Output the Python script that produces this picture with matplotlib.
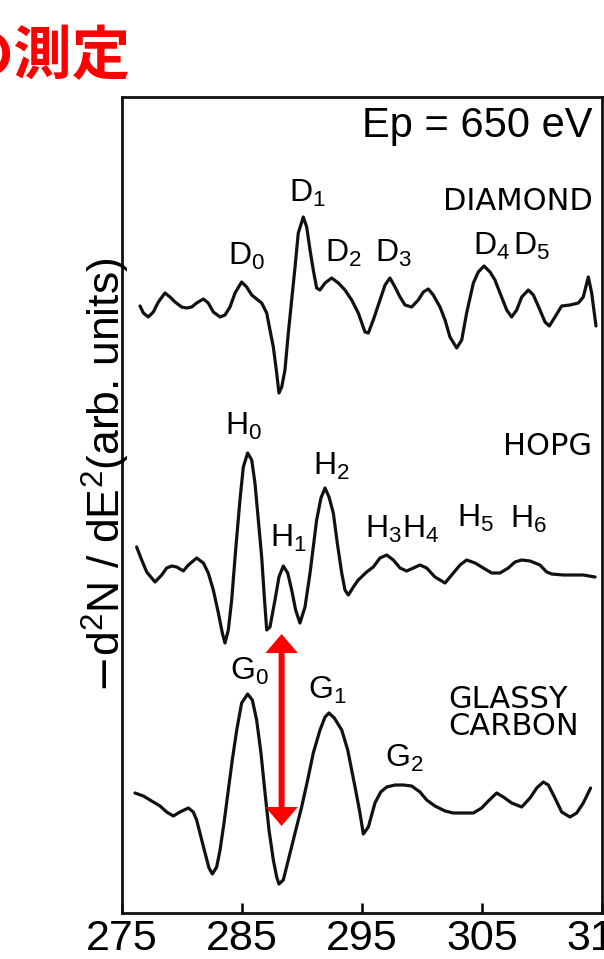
import matplotlib
matplotlib.use("Agg")
import matplotlib.pyplot as plt

# second-derivative Auger spectra (C KVV), heights in arbitrary units
diamond_ev = [276.50, 276.78, 277.19, 277.61, 278.03, 278.58, 279.00, 279.42, 279.97, 280.39,
              280.81, 281.22, 281.78, 282.19, 282.61, 283.17, 283.58, 284.00, 284.42, 284.97,
              285.39, 285.81, 286.22, 286.64, 287.06, 287.33, 287.61, 287.89, 288.08, 288.31,
              288.58, 288.86, 289.14, 289.42, 289.69, 290.11, 290.39, 290.67, 290.94, 291.22,
              291.50, 291.92, 292.47, 293.03, 293.58, 294.14, 294.69, 295.25, 295.53, 295.94,
              296.50, 296.92, 297.33, 297.75, 298.17, 298.58, 299.14, 299.69, 300.11, 300.53,
              300.94, 301.50, 301.92, 302.33, 302.89, 303.31, 303.72, 304.28, 304.69, 305.17,
              305.67, 306.08, 306.50, 307.06, 307.47, 307.89, 308.31, 308.86, 309.28, 309.83,
              310.25, 310.61, 311.08, 311.64, 312.33, 313.03, 313.44, 313.86, 314.14, 314.50]
diamond_y = [607, 600, 596, 601, 611, 620, 616, 611, 606, 605,
             606, 610, 614, 610, 601, 596, 598, 606, 620, 631,
             626, 618, 614, 610, 600, 583, 566, 540, 520, 526,
             543, 580, 613, 646, 680, 696, 686, 663, 643, 625,
             623, 630, 635, 630, 623, 613, 600, 581, 580, 593,
             613, 628, 635, 626, 616, 608, 606, 613, 621, 624,
             618, 606, 593, 576, 565, 573, 600, 630, 641, 647,
             641, 633, 620, 603, 596, 603, 616, 623, 618, 603,
             591, 587, 596, 607, 608, 610, 616, 636, 620, 587]

hopg_ev = [276.22, 276.64, 277.06, 277.75, 278.31, 278.72, 279.14, 279.56, 280.11, 280.53,
           281.22, 281.78, 282.19, 282.61, 283.03, 283.36, 283.58, 283.86, 284.14, 284.47,
           284.83, 285.11, 285.47, 285.81, 286.08, 286.36, 286.64, 286.86, 287.06, 287.33,
           287.75, 288.08, 288.44, 288.81, 289.14, 289.47, 289.83, 290.25, 290.67, 290.94,
           291.22, 291.58, 291.92, 292.25, 292.61, 292.94, 293.31, 293.58, 293.86, 294.28,
           294.69, 295.39, 295.94, 296.50, 297.06, 297.61, 298.17, 298.72, 299.28, 299.83,
           300.39, 301.08, 301.92, 302.61, 303.17, 303.72, 304.42, 305.11, 305.81, 306.50,
           307.19, 307.75, 308.31, 309.00, 309.83, 310.39, 310.81, 311.78, 312.61, 313.44,
           314.42]
hopg_y = [366, 353, 341, 331, 338, 345, 347, 346, 342, 348,
          355, 350, 340, 323, 300, 280, 270, 283, 313, 363,
          413, 446, 460, 453, 430, 393, 356, 316, 283, 286,
          313, 336, 347, 340, 323, 303, 290, 306, 340, 366,
          393, 415, 425, 416, 400, 370, 340, 323, 318, 326,
          333, 341, 346, 355, 358, 353, 345, 342, 345, 348,
          345, 336, 330, 340, 348, 353, 350, 345, 340, 340,
          345, 351, 353, 352, 348, 341, 339, 338, 338, 338,
          336]

glassy_ev = [276.08, 276.78, 277.47, 278.17, 278.72, 279.28, 279.83, 280.53, 280.94, 281.22,
             281.58, 281.92, 282.25, 282.53, 282.89, 283.17, 283.50, 283.86, 284.19, 284.56,
             284.97, 285.47, 285.86, 286.22, 286.58, 286.92, 287.25, 287.61, 287.89, 288.08,
             288.44, 288.86, 289.42, 289.97, 290.47, 290.94, 291.50, 291.92, 292.25, 292.69,
             293.31, 293.81, 294.42, 294.83, 295.11, 295.53, 296.08, 296.56, 297.06, 297.75,
             298.44, 299.14, 299.83, 300.39, 301.08, 301.92, 302.61, 303.44, 304.28, 304.97,
             305.53, 306.22, 306.78, 307.47, 308.31, 309.00, 309.56, 310.11, 310.53, 311.08,
             311.64, 312.33, 312.89, 313.44, 314.05]
glassy_y = [120, 117, 112, 107, 101, 97, 101, 105, 101, 93,
            76, 60, 45, 39, 46, 63, 90, 123, 153, 183,
            210, 219, 213, 193, 160, 120, 83, 53, 36, 29,
            33, 53, 80, 106, 133, 160, 183, 196, 200, 195,
            183, 163, 126, 100, 79, 86, 110, 121, 126, 128,
            128, 127, 121, 113, 107, 102, 100, 100, 100, 105,
            112, 120, 116, 110, 106, 115, 125, 131, 128, 115,
            101, 96, 100, 110, 125]

x_ticks = [275, 285, 295, 305, 315]

# plasmon arrow between the G0-region extremes
arrow_ev = 288.3
arrow_low, arrow_high = 87, 279

fig = plt.figure(figsize=(6.04, 9.59), dpi=100)
ax = fig.add_axes([122 / 604, 46 / 959, 480 / 604, 816 / 959])

for ev, y in [(diamond_ev, diamond_y), (hopg_ev, hopg_y), (glassy_ev, glassy_y)]:
    ax.plot(ev, y, color="#111111", lw=2.3, solid_joinstyle="round", solid_capstyle="round")

ax.set_xlim(275, 315)
ax.set_ylim(0, 816)
ax.set_xticks(x_ticks)
ax.set_xticklabels([str(t) for t in x_ticks], fontfamily="Liberation Sans", fontsize=31)
ax.tick_params(axis="x", direction="in", length=7, width=1.8, pad=4, top=False)
ax.set_yticks([])
for s in ax.spines.values():
    s.set_linewidth(2.0)
    s.set_color("#111111")

# double-headed arrow, drawn as two halves from the middle
mid = (arrow_low + arrow_high) / 2
for end in (arrow_low, arrow_high):
    ax.arrow(arrow_ev, mid, 0, end - mid, width=0.5, head_width=2.7, head_length=19,
             length_includes_head=True, color="red", lw=0, zorder=5)

lab = dict(fontfamily="Liberation Sans", fontsize=23, ha="left", va="baseline")
peaks = [("D_0", 283.8, 648), ("D_1", 288.9, 711), ("D_2", 291.9, 651), ("D_3", 296.1, 651),
         ("D_4", 304.25, 658), ("D_5", 307.6, 658),
         ("H_0", 283.6, 478), ("H_1", 287.3, 366), ("H_2", 290.9, 438), ("H_3", 295.25, 375),
         ("H_4", 298.3, 375), ("H_5", 302.9, 386), ("H_6", 307.3, 385),
         ("G_0", 284.0, 233), ("G_1", 290.5, 214), ("G_2", 296.9, 146)]
for name, x, y in peaks:
    ax.text(x, y, r"$\mathregular{%s}$" % name, **lab)

cap = dict(fontfamily="DejaVu Sans", fontsize=22, va="baseline")
ax.text(314.25, 703, "DIAMOND", ha="right", **cap)
ax.text(314.2, 458, "HOPG", ha="right", **cap)
ax.text(302.2, 205, "GLASSY", ha="left", **cap)
ax.text(302.2, 178, "CARBON", ha="left", **cap)

ax.text(314.2, 776, "Ep = 650 eV", ha="right", va="baseline",
        fontfamily="Liberation Sans", fontsize=30)

fig.text(106 / 604, 1 - 475 / 959, r"$-$d$\mathregular{^2}$N / dE$\mathregular{^2}$(arb. units)",
         rotation=90, ha="center", va="center", fontfamily="Liberation Sans", fontsize=32)

fig.text(130 / 604, 1 - 57 / 959, "の測定", ha="right", va="center", color="red",
         fontfamily=["Noto Sans CJK JP", "DejaVu Sans"], fontweight="bold", fontsize=42)

fig.savefig("out.png", dpi=100)
